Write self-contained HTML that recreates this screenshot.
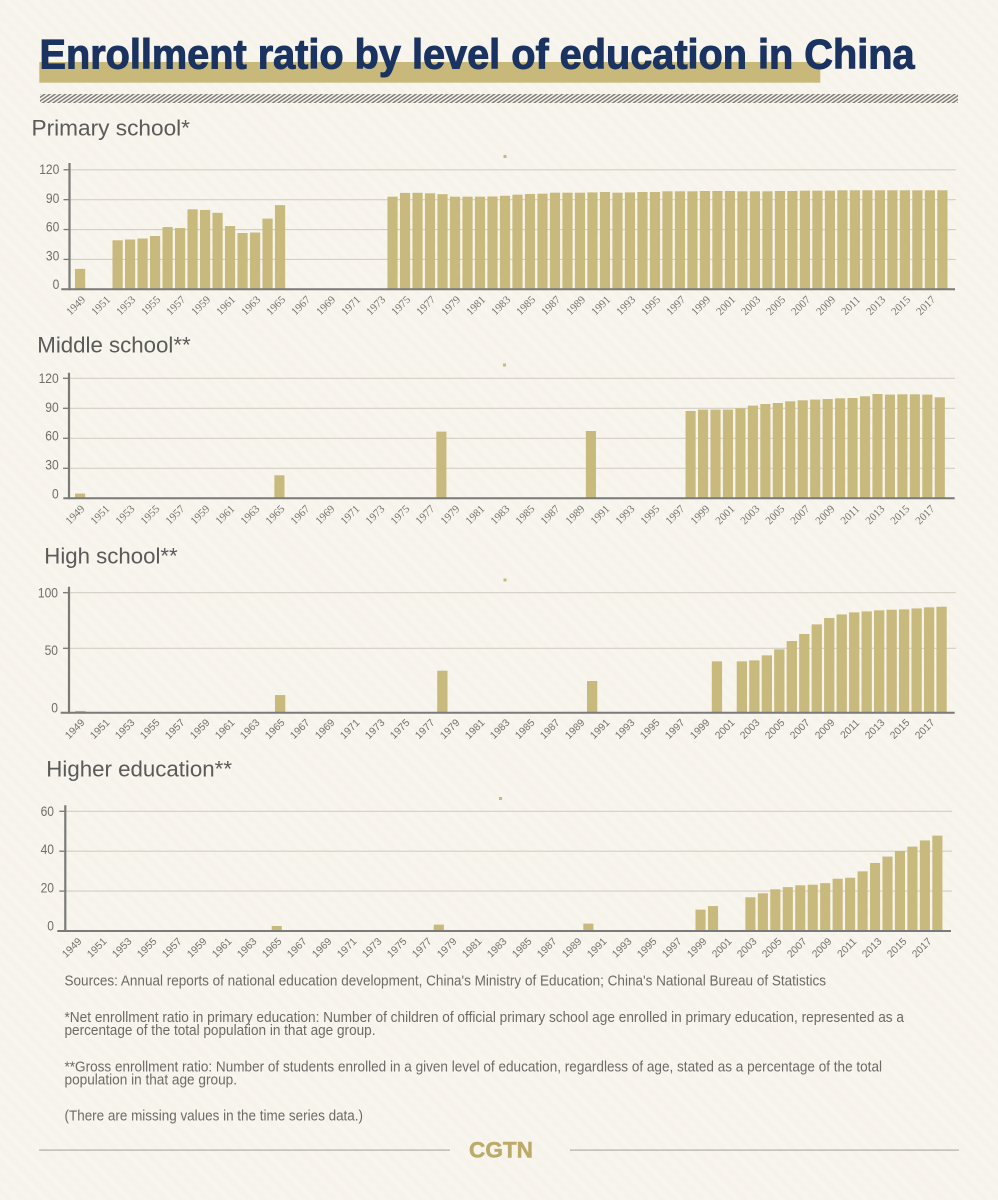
<!DOCTYPE html>
<html lang="en">
<head>
<meta charset="utf-8">
<title>Enrollment ratio by level of education in China</title>
<style>
html,body{margin:0;padding:0;width:998px;height:1200px;overflow:hidden;background:#f7f4ec;}
body{background-image:repeating-linear-gradient(45deg,#f8f5ee 0,#f8f5ee 5px,#f6f3ea 5px,#f6f3ea 10px);}
svg{display:block;position:absolute;left:0;top:0;}
.t{font-family:"Liberation Sans",sans-serif;}
.sec{font-size:22px;fill:#5a5a58;}
.note{font-size:14.4px;fill:#6b6a66;}
</style>
</head>
<body>
<svg id="root" width="998" height="1200" viewBox="0 0 998 1200" xmlns="http://www.w3.org/2000/svg">
  <defs>
    <pattern id="hatch" width="3" height="3" patternUnits="userSpaceOnUse" patternTransform="rotate(55)">
      <rect width="1.5" height="3" fill="#7f7e79"></rect>
    </pattern>
  </defs>
  <rect x="39.3" y="62" width="781" height="20.7" fill="#c8b97a"></rect>
  <text class="t" x="39.5" y="68.6" font-size="41.6" font-weight="700" fill="#1a3360" stroke="#1a3360" stroke-width="1" textLength="875" lengthAdjust="spacingAndGlyphs">Enrollment ratio by level of education in China</text>
  <rect x="40" y="94" width="918" height="9" fill="url(#hatch)"></rect>

  <text class="t sec" x="31.5" y="135.7" textLength="158.5" lengthAdjust="spacingAndGlyphs">Primary school*</text>
  <text class="t sec" x="37.3" y="352.3" textLength="153.4" lengthAdjust="spacingAndGlyphs">Middle school**</text>
  <text class="t sec" x="44.3" y="563.3" textLength="133.4" lengthAdjust="spacingAndGlyphs">High school**</text>
  <text class="t sec" x="46.3" y="776.7" textLength="185.7" lengthAdjust="spacingAndGlyphs">Higher education**</text>

  <rect x="503.5" y="155" width="3" height="3" fill="#c8b97a"></rect>
  <rect x="503" y="363.5" width="3" height="3" fill="#c8b97a"></rect>
  <rect x="503.5" y="578.5" width="3" height="3" fill="#c8b97a"></rect>
  <rect x="499" y="797" width="3" height="3" fill="#c8b97a"></rect>

  <g id="charts"></g>

  <text class="t note" x="64.5" y="985.3" textLength="761.5" lengthAdjust="spacingAndGlyphs">Sources: Annual reports of national education development, China's Ministry of Education; China's National Bureau of Statistics</text>
  <text class="t note" x="64.5" y="1022" textLength="839.5" lengthAdjust="spacingAndGlyphs">*Net enrollment ratio in primary education: Number of children of official primary school age enrolled in primary education, represented as a</text>
  <text class="t note" x="64.5" y="1035" textLength="311" lengthAdjust="spacingAndGlyphs">percentage of the total population in that age group.</text>
  <text class="t note" x="64.5" y="1071.5" textLength="817.5" lengthAdjust="spacingAndGlyphs">**Gross enrollment ratio: Number of students enrolled in a given level of education, regardless of age, stated as a percentage of the total</text>
  <text class="t note" x="64.5" y="1084.3" textLength="172.5" lengthAdjust="spacingAndGlyphs">population in that age group.</text>
  <text class="t note" x="64.5" y="1120.5" textLength="298.5" lengthAdjust="spacingAndGlyphs">(There are missing values in the time series data.)</text>

  <rect x="39" y="1149.5" width="411" height="1.2" fill="#b0aea6"></rect>
  <rect x="570" y="1149.5" width="389" height="1.2" fill="#b0aea6"></rect>
  <text class="t" x="469" y="1157.7" font-size="22" font-weight="700" fill="#bcab68" stroke="#bcab68" stroke-width="0.5" textLength="64" lengthAdjust="spacingAndGlyphs">CGTN</text>
</svg>
<script>
const years = [1949,1950,1951,1952,1953,1954,1955,1956,1957,1958,1959,1960,1961,1962,1963,1964,1965,1966,1967,1968,1969,1970,1971,1972,1973,1974,1975,1976,1977,1978,1979,1980,1981,1982,1983,1984,1985,1986,1987,1988,1989,1990,1991,1992,1993,1994,1995,1996,1997,1998,1999,2000,2001,2002,2003,2004,2005,2006,2007,2008,2009,2010,2011,2012,2013,2014,2015,2016,2017,2018];
const yearTickLabels = [1949,1951,1953,1955,1957,1959,1961,1963,1965,1967,1969,1971,1973,1975,1977,1979,1981,1983,1985,1987,1989,1991,1993,1995,1997,1999,2001,2003,2005,2007,2009,2011,2013,2015,2017];

const primaryValues = [20.5,null,null,49.2,50,51,53.5,62.5,61.5,80.3,79.7,76.8,63.5,56.5,57,71,84.5,null,null,null,null,null,null,null,null,93,96.8,96.9,96.4,95.5,93,93,93,93.2,93.9,95,95.7,96,97,97,97,97.3,97.7,97,97.3,97.7,97.7,98.4,98.4,98.4,98.7,98.7,98.7,98.4,98.4,98.4,98.7,98.7,99,99,99,99.4,99.4,99.4,99.4,99.4,99.4,99.4,99.4,99.4];
const middleValues = [4.7,null,null,null,null,null,null,null,null,null,null,null,null,null,null,null,23,null,null,null,null,null,null,null,null,null,null,null,null,66.7,null,null,null,null,null,null,null,null,null,null,null,67.3,null,null,null,null,null,null,null,87.3,88.7,88.7,88.7,90,92.7,94.3,95.3,97,98,98.7,99.3,100,100.3,102,104.3,103.7,104,104,103.7,101];
const highValues = [1.5,null,null,null,null,null,null,null,null,null,null,null,null,null,null,null,14.7,null,null,null,null,null,null,null,null,null,null,null,null,35,null,null,null,null,null,null,null,null,null,null,null,26.4,null,null,null,null,null,null,null,null,null,42.8,null,42.8,43.6,47.8,52.8,59.7,65.6,73.6,78.9,81.9,83.6,84.4,85.3,85.8,86.1,86.9,87.8,88.3];
const higherValues = [null,null,null,null,null,null,null,null,null,null,null,null,null,null,null,null,2.5,null,null,null,null,null,null,null,null,null,null,null,null,3.2,null,null,null,null,null,null,null,null,null,null,null,3.7,null,null,null,null,null,null,null,null,10.7,12.5,null,null,16.9,18.9,20.9,22,22.9,23.2,24,26.2,26.7,29.9,34.1,37.3,40.1,42.3,45.4,47.8];

const primaryTicks = [0,30,60,90,120];
const middleTicks = [0,30,60,90,120];
const highTicks = [0,50,100];
const higherTicks = [0,20,40,60];

const NS = 'http://www.w3.org/2000/svg';
function mk(tag, attrs, parent){
  const el = document.createElementNS(NS, tag);
  for (const k in attrs) el.setAttribute(k, attrs[k]);
  parent.appendChild(el);
  return el;
}

function drawChart(key, values, ticks, o){
  const host = document.getElementById('charts');
  const g = mk('g', {}, host);
  
  
  const maxTick = ticks[ticks.length - 1];
  const xBar = function(i){ return o.x0 + i * o.step; };
  const y = function(v){ return o.base - v * o.scale; };
  const gridY = function(v){ return y(v) + ((o.gridNudge && o.gridNudge[v]) || 0); };
  const labelY = function(v){ return o.labelBottom - (v / maxTick) * (o.labelBottom - o.labelTop); };
  const xLabel = function(yr){ return o.labelX0 + (yr - 1949) * 12.5; };

  ticks.forEach(function(t){
    if (t !== 0) {
      const line = mk('line', {x1:o.axisX, x2:o.right, y1:gridY(t), y2:gridY(t), stroke:'#d3cfc5', 'stroke-width':1.1}, g);
      
      
      const tick = mk('line', {x1:o.axisX - 6, x2:o.axisX, y1:gridY(t), y2:gridY(t), stroke:'#7a7a78', 'stroke-width':1.3}, g);
      
      
    }
    const s = String(t);
    const lab = mk('text', {x:o.labelRight, y:labelY(t) + 5, 'text-anchor':'end', 'font-size':14, fill:'#6f6e6a', 'font-family':'"Liberation Sans",sans-serif', textLength:s.length * 6.7, lengthAdjust:'spacingAndGlyphs'}, g);
    lab.textContent = s;
    
    
  });

  values.forEach(function(v, i){
    if (v === null) return;
    const bar = mk('rect', {x:xBar(i), y:y(v), width:o.barWidth, height:o.base - y(v), fill:'#c8b97d'}, g);
    
    
  });

  const axisY = mk('line', {x1:o.axisX, x2:o.axisX, y1:o.axisTop, y2:o.base + 1, stroke:'#7a7a78', 'stroke-width':2.2}, g);
  
  
  const axisX = mk('line', {x1:o.baseLeft, x2:o.baseRight, y1:o.base, y2:o.base, stroke:'#7a7a78', 'stroke-width':2}, g);
  
  

  yearTickLabels.forEach(function(yr){
    const cx = xLabel(yr);
    const t = mk('text', {x:cx, y:o.labelCy, dy:'0.35em', 'text-anchor':'middle', 'font-size':o.yearSize, fill:'#72716c', 'font-family':o.yearFont, transform:'rotate(-45 ' + cx + ' ' + o.labelCy + ')'}, g);
    t.textContent = String(yr);
    
    
  });
}

const serifFont = '"Liberation Serif",serif';
const sansFont = '"Liberation Sans",sans-serif';

drawChart('primary-school', primaryValues, primaryTicks, {x0:75, step:12.497, barWidth:10.2, base:289.3, scale:0.996, axisX:69.5, axisTop:163, right:956, baseLeft:61.3, baseRight:955, labelRight:59.3, labelTop:169, labelBottom:284, labelX0:75.5, labelCy:305.3, yearFont:serifFont, yearSize:11});
drawChart('middle-school', middleValues, middleTicks, {x0:75, step:12.46, barWidth:10.1, base:498.3, scale:1.0, axisX:69, axisTop:372.7, right:955, baseLeft:63.3, baseRight:954.7, labelRight:58.7, labelTop:378, labelBottom:493.3, labelX0:74.8, labelCy:514.5, yearFont:serifFont, yearSize:11});
drawChart('high-school', highValues, highTicks, {x0:75.3, step:12.48, barWidth:10.3, base:712.7, scale:1.2, gridNudge:{50:-4.4}, axisX:69, axisTop:586.7, right:956, baseLeft:60.7, baseRight:954.7, labelRight:58, labelTop:592.7, labelBottom:707.3, labelX0:74.7, labelCy:728.8, yearFont:sansFont, yearSize:10.3});
drawChart('higher-education', higherValues, higherTicks, {x0:72.3, step:12.464, barWidth:10.1, base:931, scale:1.995, axisX:65.3, axisTop:805.3, right:952, baseLeft:57.3, baseRight:951, labelRight:54, labelTop:811, labelBottom:925.7, labelX0:71.7, labelCy:947.5, yearFont:sansFont, yearSize:10.3});
</script>
</body>
</html>
